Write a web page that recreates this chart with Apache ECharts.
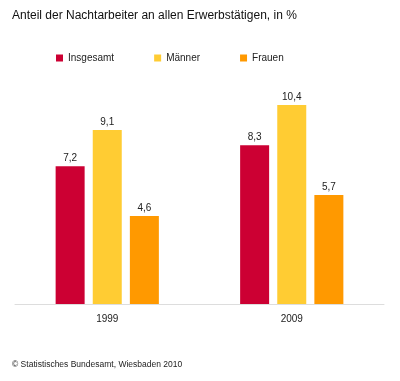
<!DOCTYPE html>
<html><head><meta charset="utf-8">
<script src="https://cdn.jsdelivr.net/npm/echarts@6/dist/echarts.min.js"></script>
<style>html,body{margin:0;padding:0;background:#fff}#c{width:400px;height:381px}</style>
</head><body><div id="c"></div>
<script>
const categories = ['1999', '2009'];
const seriesNames = ['Insgesamt', 'Männer', 'Frauen'];
const insgesamt = [7.2, 8.3];
const maenner = [9.1, 10.4];
const frauen = [4.6, 5.7];
const colors = ['#cc0033', '#ffcc33', '#ff9900'];
const titleText = 'Anteil der Nachtarbeiter an allen Erwerbstätigen, in %';
const sourceText = '© Statistisches Bundesamt, Wiesbaden 2010';

const font = '"Liberation Sans", Arial, sans-serif';
const chart = echarts.init(document.getElementById('c'), null, {renderer: 'canvas'});
const fmt = p => String(p.value).replace('.', ',');
const mk = (name, data, color) => ({
  name, type: 'bar', data, barWidth: 29, barGap: '28%',
  itemStyle: {color},
  label: {show: true, position: 'top', distance: 3, formatter: fmt,
          fontFamily: font, fontSize: 10, color: '#222'}
});
chart.setOption({
  animation: false,
  color: colors,
  title: [
    {text: titleText, left: 12, top: 10, padding: 0, textStyle: {fontFamily: font, fontSize: 12, fontWeight: 'normal', color: '#111'}},
    {text: sourceText, left: 12, top: 360, padding: 0, textStyle: {fontFamily: font, fontSize: 8.5, fontWeight: 'normal', color: '#222'}}
  ],
  legend: {
    data: seriesNames, left: 56, top: 53, padding: 0, itemWidth: 7, itemHeight: 7, itemGap: 40,
    icon: 'rect', textStyle: {fontFamily: font, fontSize: 10, color: '#222'}
  },
  grid: {left: 15, right: 16, top: 93.6, bottom: 77},
  xAxis: {
    type: 'category', data: categories,
    axisLine: {lineStyle: {color: '#dddddd', width: 1}},
    axisTick: {show: false},
    axisLabel: {fontFamily: font, fontSize: 10, color: '#222', margin: 10}
  },
  yAxis: {type: 'value', min: 0, max: 11, show: false, splitLine: {show: false}},
  series: [mk(seriesNames[0], insgesamt, colors[0]), mk(seriesNames[1], maenner, colors[1]), mk(seriesNames[2], frauen, colors[2])]
});
</script></body></html>
